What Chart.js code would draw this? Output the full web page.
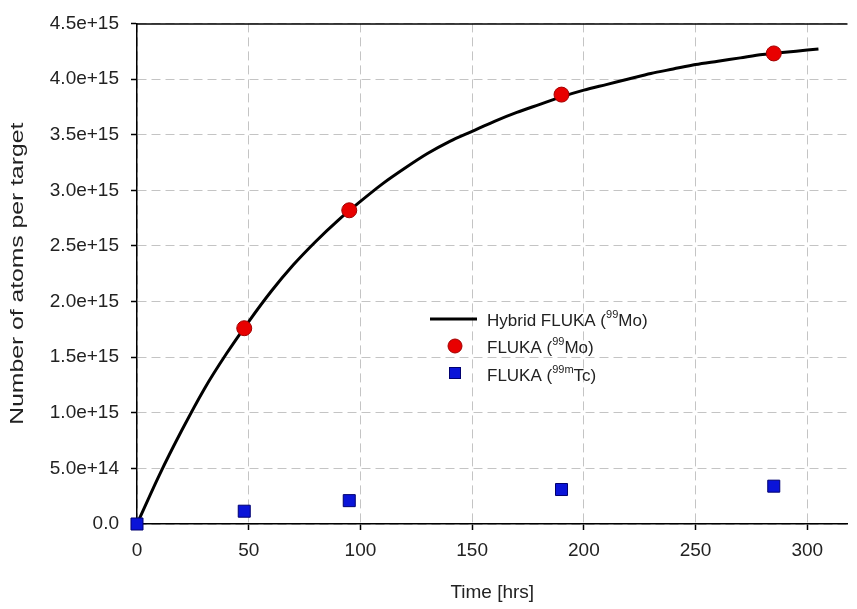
<!DOCTYPE html>
<html>
<head>
<meta charset="utf-8">
<script src="https://cdn.jsdelivr.net/npm/chart.js@4.4.1/dist/chart.umd.min.js"></script>
<style>
html,body{margin:0;padding:0;background:#fff;}
#wrap{width:857px;height:609px;position:relative;}
</style>
</head>
<body>
<div id="wrap"><canvas id="c" width="857" height="609"></canvas></div>
<script>
/* ---------- data ---------- */
var curveT=[0,10,20,30,40,50,60,70,80,90,100,110,120,130,140,150,160,170,180,190,200,210,220,230,240,250,260,270,280,290,300,305];
var curveMo=[0,0.44e15,0.84e15,1.21e15,1.53e15,1.82e15,2.09e15,2.33e15,2.54e15,2.73e15,2.90e15,3.06e15,3.20e15,3.33e15,3.44e15,3.53e15,3.62e15,3.70e15,3.77e15,3.84e15,3.90e15,3.95e15,4.00e15,4.05e15,4.09e15,4.13e15,4.16e15,4.19e15,4.22e15,4.24e15,4.26e15,4.27e15];
var flukaT=[48,95,190,285];
var flukaMo=[1.76e15,2.82e15,3.86e15,4.23e15];
var tcT=[0,48,95,190,285];
var flukaTc=[0,0.115e15,0.21e15,0.31e15,0.34e15];
var xTicks=[0,50,100,150,200,250,300];
var yTicks=[0,0.5e15,1e15,1.5e15,2e15,2.5e15,3e15,3.5e15,4e15,4.5e15];

function pts(xs,ys){return xs.map(function(x,i){return {x:x,y:ys[i]};});}
function fmtY(v){if(v===0)return '0.0';return v.toExponential(1);}

var FONT='"Liberation Sans", Arial, sans-serif';
var TXT='#222';

/* frame, y title and legend (with superscripts) */
var framePlugin={
    id:'frame',
    beforeDatasetsDraw:function(chart){
        var a=chart.chartArea,ctx=chart.ctx;
        ctx.save();
        ctx.strokeStyle='#000';ctx.lineWidth=1.5;
        ctx.beginPath();ctx.moveTo(a.left,a.top+0.5);ctx.lineTo(a.right,a.top+0.5);ctx.stroke();
        ctx.restore();
    },
    afterDraw:function(chart){
        var ctx=chart.ctx,a=chart.chartArea;
        ctx.save();
        // y axis title, the picture is stretched in height so the text runs long
        ctx.translate(18,(a.top+a.bottom)/2);
        ctx.rotate(-Math.PI/2);
        ctx.scale(1.3,1);
        ctx.font='19px '+FONT;ctx.fillStyle=TXT;ctx.textAlign='center';ctx.textBaseline='middle';
        ctx.fillText('Number of atoms per target',0,0);
        ctx.restore();

        ctx.save();
        // line sample
        ctx.strokeStyle='#000';ctx.lineWidth=3;
        ctx.beginPath();ctx.moveTo(430,319);ctx.lineTo(477,319);ctx.stroke();
        // red circle
        ctx.fillStyle='#e80000';ctx.strokeStyle='#a00000';ctx.lineWidth=1;
        ctx.beginPath();ctx.arc(455,346,7,0,Math.PI*2);ctx.fill();ctx.stroke();
        // blue square
        ctx.fillStyle='#0a14d8';ctx.strokeStyle='#000070';
        ctx.fillRect(449,367,12,12);ctx.strokeRect(449.5,367.5,11,11);
        // texts
        ctx.fillStyle=TXT;ctx.textBaseline='alphabetic';
        function rich(x,y,parts){
            parts.forEach(function(p){
                ctx.font=(p[1]?'11px ':'17px ')+FONT;
                ctx.fillText(p[0],x,y-(p[1]?8:0));
                x+=ctx.measureText(p[0]).width;
            });
        }
        rich(487,326,[['Hybrid FLUKA (',0],['99',1],['Mo)',0]]);
        rich(487,353,[['FLUKA (',0],['99',1],['Mo)',0]]);
        rich(487,381,[['FLUKA (',0],['99m',1],['Tc)',0]]);
        ctx.restore();
    }
};

var gridCommon={color:'#c4c4c4',lineWidth:1,tickColor:'#000',tickLength:6,tickBorderDash:[],tickWidth:1.5};
var borderCommon={display:true,color:'#000',width:1.5,dash:[9,5]};

new Chart(document.getElementById('c'),{
    type:'scatter',
    data:{datasets:[
        {label:'FLUKA (99Mo)',data:pts(flukaT,flukaMo),pointStyle:'circle',pointRadius:7.5,backgroundColor:'#e80000',borderColor:'#a00000',borderWidth:1,clip:false,order:1},
        {label:'FLUKA (99mTc)',data:pts(tcT,flukaTc),pointStyle:'rect',pointRadius:8.5,backgroundColor:'#0a14d8',borderColor:'#000070',borderWidth:1,clip:false,order:2},
        {label:'Hybrid FLUKA (99Mo)',data:pts(curveT,curveMo),showLine:true,pointRadius:0,borderColor:'#000',borderWidth:3,tension:0.3,clip:false,order:3}
    ]},
    plugins:[framePlugin],
    options:{
        responsive:false,animation:false,
        layout:{padding:{top:16,right:0,left:0,bottom:0}},
        plugins:{legend:{display:false},tooltip:{enabled:false}},
        scales:{
            x:{type:'linear',min:0,max:318,
                afterFit:function(s){s.height=85;},
                afterBuildTicks:function(s){s.ticks=xTicks.map(function(v){return {value:v};});},
                border:borderCommon,
                grid:gridCommon,
                ticks:{color:TXT,padding:9,font:{family:FONT,size:19},maxRotation:0},
                title:{display:true,text:'Time [hrs]',color:TXT,font:{family:FONT,size:19},padding:{top:0,bottom:5}}
            },
            y:{type:'linear',min:0,max:4.5e15,
                afterFit:function(s){s.width=137;},
                afterBuildTicks:function(s){s.ticks=yTicks.map(function(v){return {value:v};});},
                border:borderCommon,
                grid:gridCommon,
                ticks:{color:TXT,padding:12,font:{family:FONT,size:19},callback:function(v){return fmtY(v);}},
                title:{display:false}
            }
        }
    }
});
</script>
</body>
</html>
